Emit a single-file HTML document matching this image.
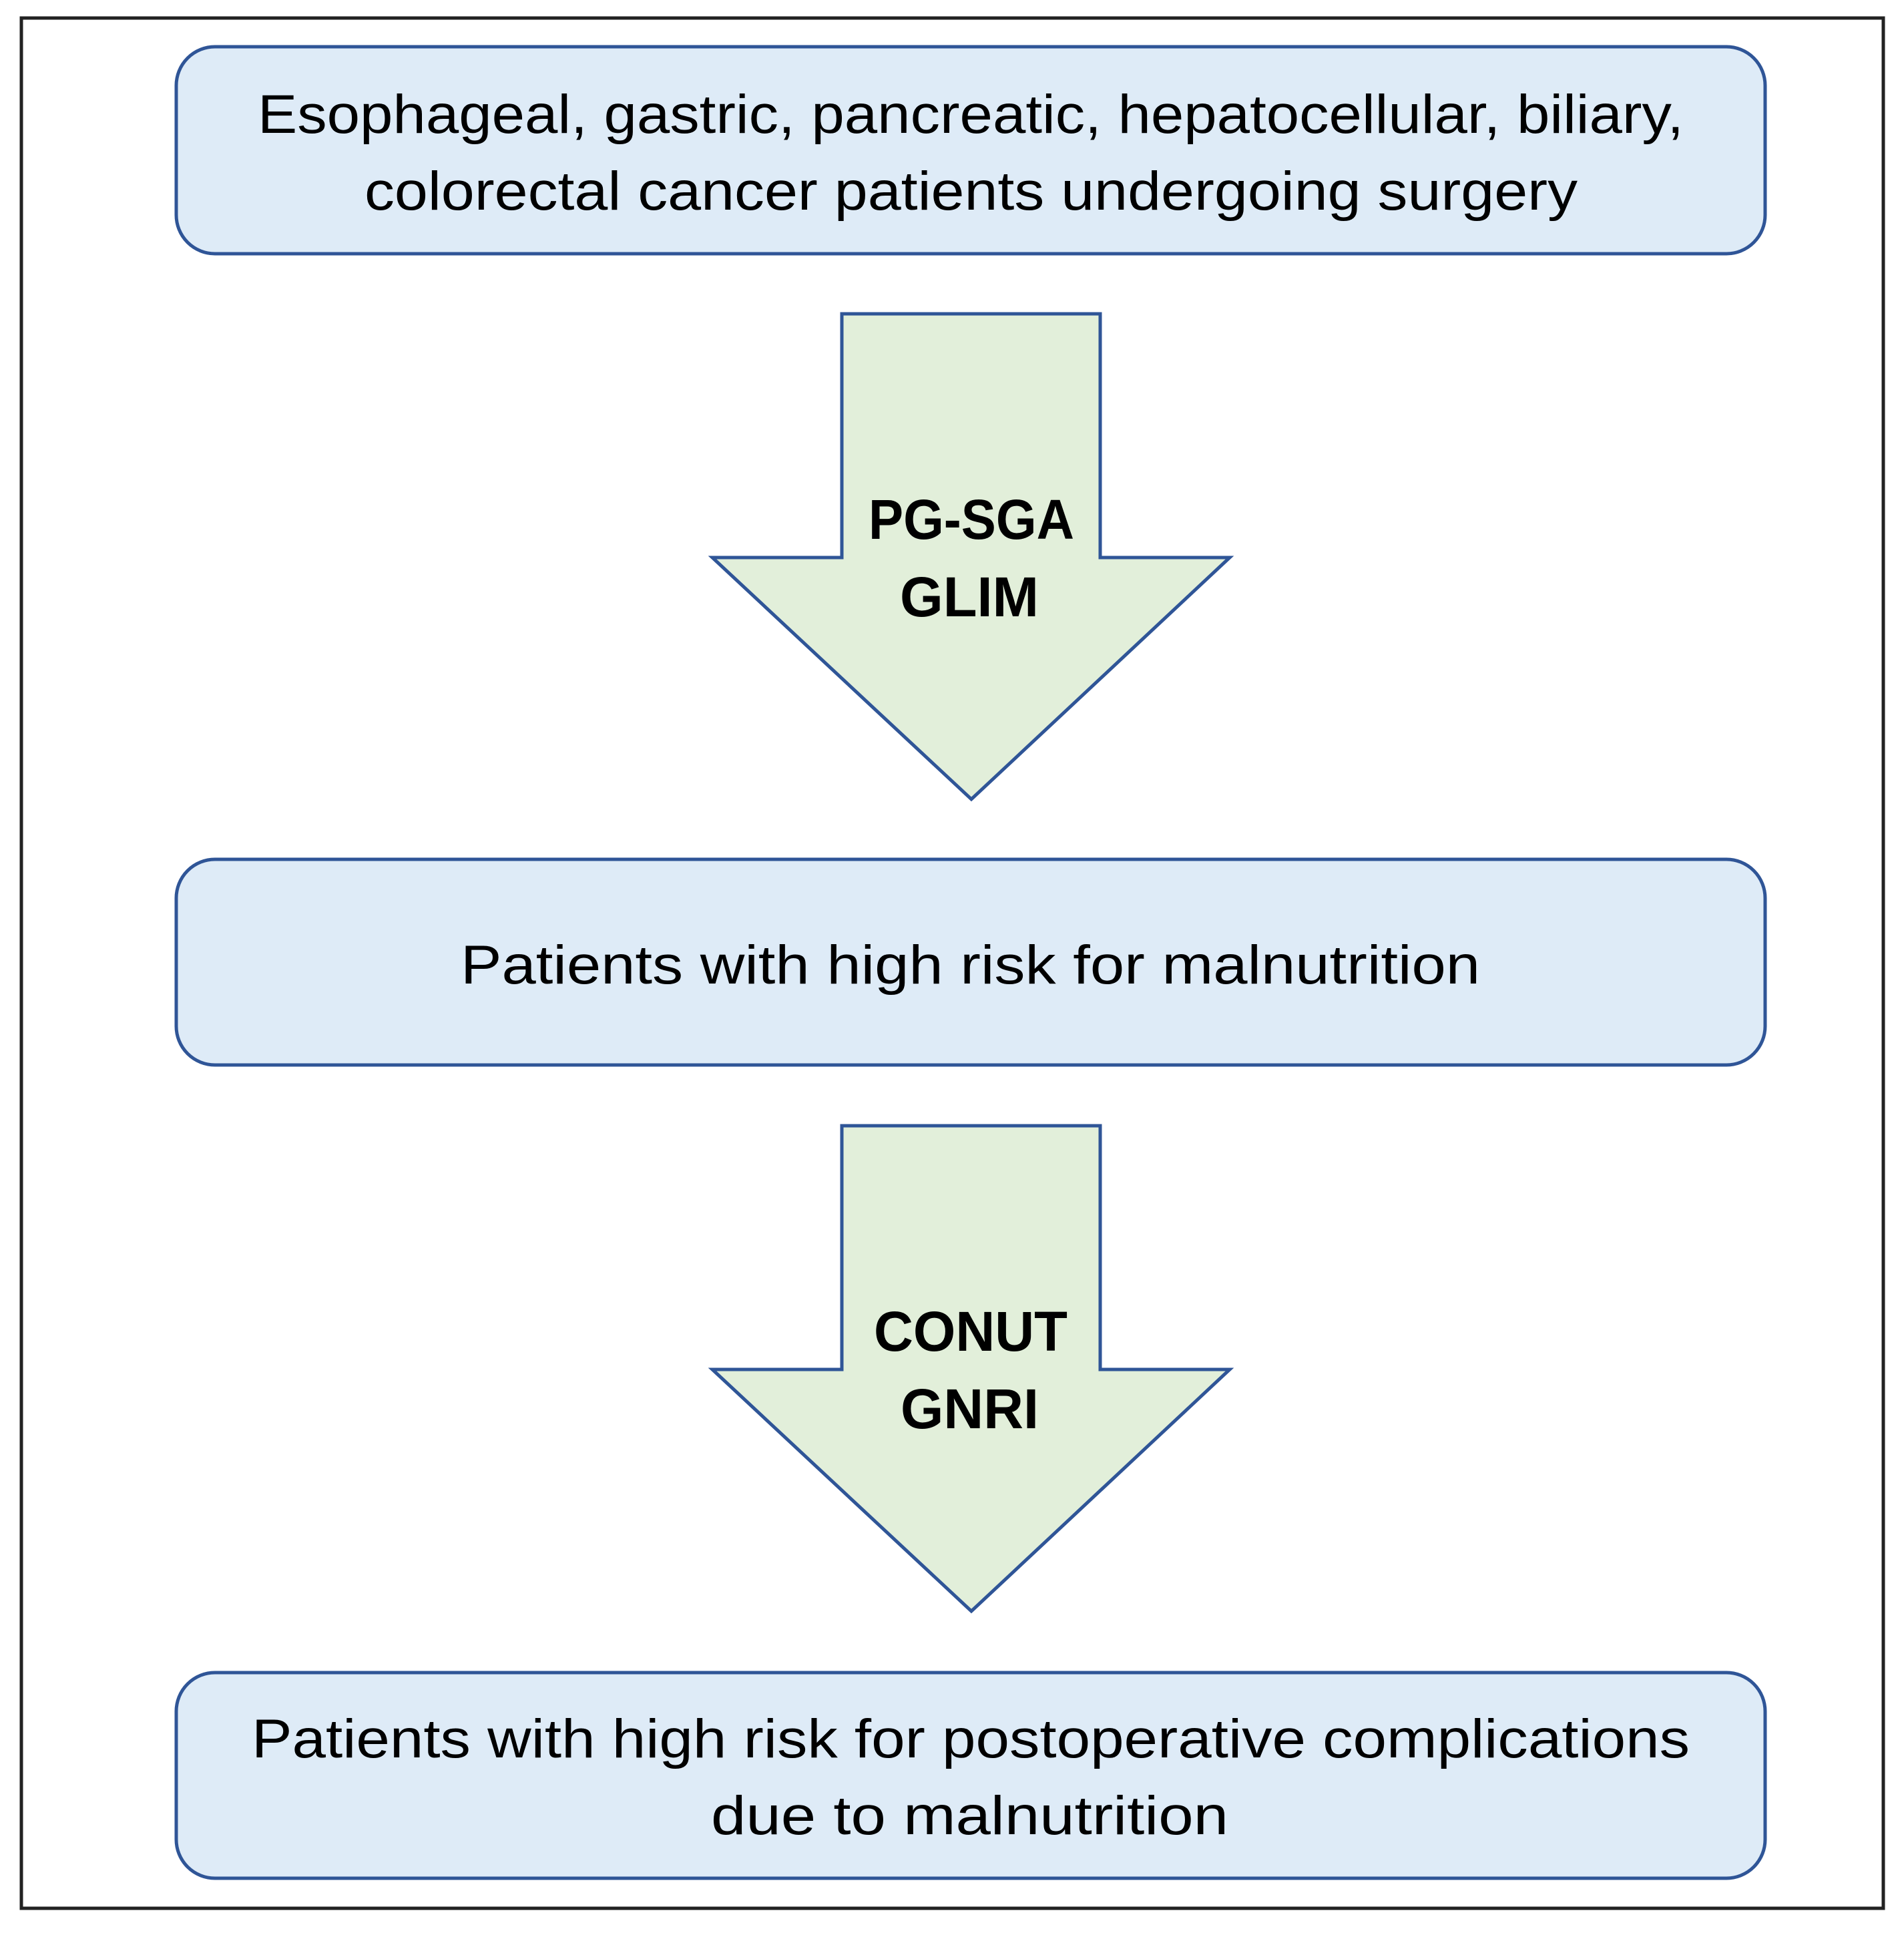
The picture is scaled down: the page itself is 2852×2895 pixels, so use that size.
<!DOCTYPE html>
<html><head><meta charset="utf-8"><style>html,body{margin:0;padding:0;background:#fff}svg{display:block}</style></head>
<body>
<svg width="2852" height="2895" viewBox="0 0 2852 2895" xmlns="http://www.w3.org/2000/svg">
<rect x="0" y="0" width="2852" height="2895" fill="#fff"/>
<rect x="32" y="27" width="2789" height="2831" fill="none" stroke="#222" stroke-width="5"/>
<g fill="#deebf7" stroke="#2f5597" stroke-width="5">
<rect x="264" y="70" width="2380" height="310" rx="58"/>
<rect x="264" y="1287" width="2380" height="308" rx="58"/>
<rect x="264" y="2505" width="2380" height="308" rx="58"/>
</g>
<g fill="#e2efda" stroke="#2f5597" stroke-width="5" stroke-linejoin="miter">
<polygon points="1261,470 1648,470 1648,835 1842,835 1455,1197 1067,835 1261,835"/>
<polygon points="1261,1686 1648,1686 1648,2051 1842,2051 1455,2413 1067,2051 1261,2051"/>
</g>
<g font-family="Liberation Sans, sans-serif" font-size="82" fill="#000">
<text x="386" y="199" textLength="2136" lengthAdjust="spacingAndGlyphs">Esophageal, gastric, pancreatic, hepatocellular, biliary,</text>
<text x="546" y="314" textLength="1817" lengthAdjust="spacingAndGlyphs">colorectal cancer patients undergoing surgery</text>
<text x="690" y="1473" textLength="1527" lengthAdjust="spacingAndGlyphs">Patients with high risk for malnutrition</text>
<text x="377" y="2632" textLength="2154" lengthAdjust="spacingAndGlyphs">Patients with high risk for postoperative complications</text>
<text x="1065" y="2747" textLength="775" lengthAdjust="spacingAndGlyphs">due to malnutrition</text>
</g>
<g font-family="Liberation Sans, sans-serif" font-size="84" font-weight="bold" fill="#000">
<text x="1301" y="807" textLength="308" lengthAdjust="spacingAndGlyphs">PG-SGA</text>
<text x="1348" y="923" textLength="208" lengthAdjust="spacingAndGlyphs">GLIM</text>
<text x="1309" y="2023" textLength="290" lengthAdjust="spacingAndGlyphs">CONUT</text>
<text x="1349" y="2139" textLength="207" lengthAdjust="spacingAndGlyphs">GNRI</text>
</g>
</svg>
</body></html>
